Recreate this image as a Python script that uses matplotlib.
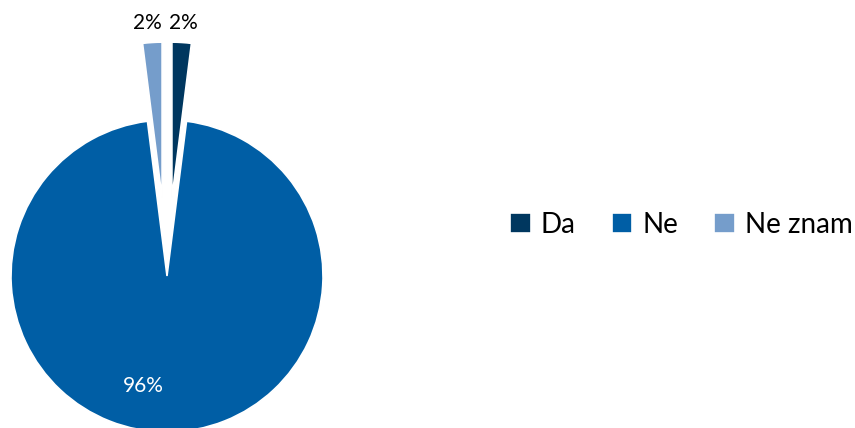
import matplotlib.pyplot as plt

# survey answers
categories = ["Da", "Ne", "Ne znam"]
shares = [2, 96, 2]
colors = ["#00375F", "#005EA5", "#759DCB"]
explode = [0.5, 0, 0.5]

plt.rcParams["font.family"] = ["Lato", "DejaVu Sans"]

W, H = 855, 428
fig = plt.figure(figsize=(W / 100, H / 100), dpi=100)

# pie axes: centre at (167, 276) px from top-left, radius 156 px
cx, cy, r = 167, H - 276, 156
L = 1.8
ax = fig.add_axes([(cx - L * r) / W, (cy - L * r) / H, 2 * L * r / W, 2 * L * r / H])

wedges, texts, autotexts = ax.pie(
    shares,
    colors=colors,
    explode=explode,
    startangle=90,
    counterclock=False,
    autopct="%.0f%%",
    pctdistance=0.7,
    wedgeprops=dict(edgecolor="white", linewidth=1.2),
    textprops=dict(fontsize=15),
)
ax.set_xlim(-L, L)
ax.set_ylim(-L, L)
ax.set_aspect("equal")
ax.axis("off")

# label placement (small ones above, big one inside)
label_pos = [(0.105, 1.62), (-0.154, -0.705), (-0.125, 1.62)]
label_col = ["black", "white", "black"]
for t, pos, c in zip(autotexts, label_pos, label_col):
    t.set_position(pos)
    t.set_color(c)
    t.set_ha("center")
    t.set_va("center")

fig.legend(
    wedges,
    categories,
    loc="center left",
    bbox_to_anchor=(510 / W, 1 - 225 / H),
    ncol=3,
    frameon=False,
    fontsize=20,
    handlelength=0.75,
    handleheight=0.75,
    handletextpad=0.35,
    columnspacing=1.3,
    borderaxespad=0,
    borderpad=0,
)

fig.savefig("out.png", dpi=100)
